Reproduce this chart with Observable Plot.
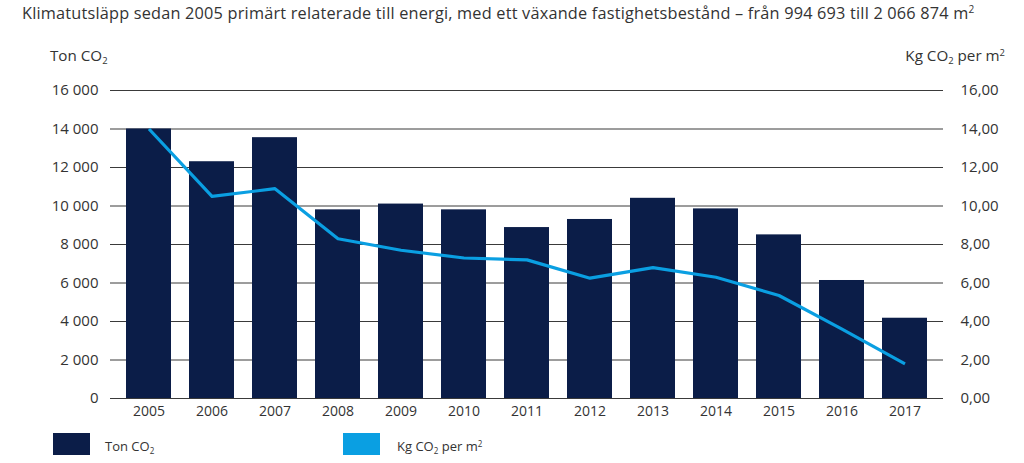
<!DOCTYPE html>
<html><head><meta charset="utf-8">
<script src="https://cdn.jsdelivr.net/npm/d3@7"></script>
<script src="https://cdn.jsdelivr.net/npm/@observablehq/plot@0.6"></script>
<style>
body{margin:0;background:#fff;font-family:"Open Sans",sans-serif;color:#333;}
#wrap{position:relative;width:1024px;height:463px;overflow:hidden;}
#chart{position:absolute;left:0;top:0;}
.lbl{position:absolute;white-space:nowrap;font-size:14px;line-height:16px;color:#333;}
.lbl sub{font-size:0.62em;vertical-align:-0.35em;line-height:0}
.lbl sup{font-size:0.62em;vertical-align:0.55em;line-height:0}
.sw{position:absolute;width:37px;height:22px;}
</style></head>
<body>
<div id="wrap">
  <div id="chart"></div>
  <div class="lbl" id="title" style="left:22px;top:4px;font-size:16.3px;line-height:18px;letter-spacing:0.2px;">Klimatutsläpp sedan 2005 primärt relaterade till energi, med ett växande fastighetsbestånd – från 994 693 till 2 066 874 m<sup>2</sup></div>
  <div class="lbl" style="left:50px;top:47px;font-size:15.2px;">Ton CO<sub>2</sub></div>
  <div class="lbl" style="right:19px;top:47px;font-size:15.2px;">Kg CO<sub>2</sub> per m<sup>2</sup></div>
  <div class="sw" style="left:53px;top:433px;background:#0b1d48;"></div>
  <div class="lbl" style="left:105px;top:438px;font-size:13px;">Ton CO<sub>2</sub></div>
  <div class="sw" style="left:343px;top:433px;background:#0a9fe2;"></div>
  <div class="lbl" style="left:397px;top:438px;font-size:13px;">Kg CO<sub>2</sub> per m<sup>2</sup></div>
</div>
<script>
const years = ["2005","2006","2007","2008","2009","2010","2011","2012","2013","2014","2015","2016","2017"];
const tonCO2 = [14000,12300,13550,9800,10100,9800,8880,9300,10400,9850,8500,6130,4170];
const kgPerM2 = [14.0,10.5,10.9,8.3,7.7,7.3,7.2,6.25,6.8,6.3,5.35,3.6,1.8];
const leftTicks = [0,2000,4000,6000,8000,10000,12000,14000,16000];
const rightTicks = [0,2,4,6,8,10,12,14,16];

const data = years.map((y,i)=>({year:y, ton:tonCO2[i], kg:kgPerM2[i]}));
const kgToTon = 1000;

const plot = Plot.plot({
  width:1024, height:463,
  marginLeft:110, marginRight:81, marginTop:90, marginBottom:65,
  style:{fontFamily:"'Open Sans', sans-serif", fontSize:"15px", color:"#333", background:"transparent"},
  x:{domain:years, paddingInner:0.286, paddingOuter:0.254, label:null},
  y:{domain:[0,16000], label:null},
  marks:[
    Plot.gridY(leftTicks, {stroke:"#3a3a3a", strokeOpacity:1, strokeWidth:1}),
    Plot.barY(data, {x:"year", y:"ton", fill:"#0b1d48"}),
    Plot.lineY(data, {x:"year", y:d=>d.kg*kgToTon, stroke:"#0a9fe2", strokeWidth:3.2, strokeLinejoin:"round", strokeLinecap:"butt"}),
    Plot.axisY(leftTicks, {anchor:"left", tickSize:0, tickPadding:12, fontSize:15,
      tickFormat:d=>d3.format(",")(d).replace(/,/g," "), label:null}),
    Plot.axisY(rightTicks.map(v=>v*kgToTon), {anchor:"right", tickSize:0, tickPadding:17, fontSize:15,
      tickFormat:d=>(d/kgToTon).toFixed(2).replace(".",","), label:null}),
    Plot.axisX({tickSize:0, tickPadding:8, fontSize:14, label:null})
  ]
});
document.getElementById("chart").appendChild(plot);
</script>
</body></html>
